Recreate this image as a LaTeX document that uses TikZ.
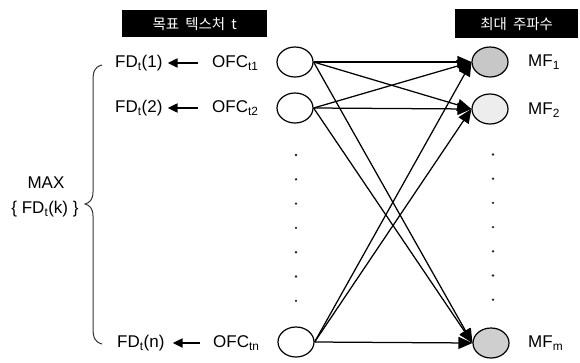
\documentclass[tikz,border=0pt]{standalone}
\usepackage{fontspec}
\setmainfont{Liberation Sans}
\newfontfamily\kor{Noto Sans CJK KR}
\usetikzlibrary{shapes.geometric,arrows.meta}
\begin{document}
\begin{tikzpicture}[x=1pt,y=-1pt,
  lbl/.style={font=\fontsize{17}{19}\selectfont, inner sep=0pt, text height=12pt, text depth=3pt},
  hdr/.style={fill=black, text=white, font=\kor\fontsize{14.5}{16}\selectfont, inner sep=0pt, anchor=north west},
  lnode/.style={ellipse, draw, line width=1.2pt, minimum width=36pt, minimum height=30pt, inner sep=0pt, fill=white},
  rnode/.style={ellipse, draw, line width=1.2pt, minimum width=36pt, minimum height=30pt, inner sep=0pt},
  edge/.style={line width=1.25pt, -{Triangle[length=14pt,width=12pt]}},
  smallarr/.style={line width=2pt, -{Triangle[length=10pt,width=9pt]}},
  dotn/.style={circle, fill=black!85, inner sep=0pt, minimum size=2.6pt}
]
\useasboundingbox (0,0) rectangle (580,362);
% headers
\node[hdr, minimum width=145pt, minimum height=27pt] (h1) at (122,10) {목표\hspace{6pt}텍스처\hspace{6pt}t};
\node[hdr, minimum width=123pt, minimum height=29pt] (h2) at (455,9) {최대\hspace{6pt}주파수};
% left circles
\node[lnode] (L1) at (295,62) {};
\node[lnode] (L2) at (295,108) {};
\node[lnode] (Ln) at (296,342) {};
% right circles
\node[rnode, fill=black!22] (R1) at (490,62) {};
\node[rnode, fill=black!7] (R2) at (490,109) {};
\node[rnode, fill=black!19] (Rm) at (491,343) {};
% edges
\foreach \a in {L1,L2,Ln}{
  \foreach \b in {R1,R2,Rm}{
    \draw[edge] (\a.east) -- (\b.west);
  }
}
% dots
\foreach \k in {0,...,6}{
  \node[dotn] (dl\k) at (296,{155+24.3*\k}) {};
  \node[dotn] (dr\k) at (493,{154.5+24.2*\k}) {};
}
% left labels
\node[lbl, anchor=west] (FD1) at (115,63) {FD\textsubscript{t}(1)};
\node[lbl, anchor=west] (O1) at (212,63) {OFC\textsubscript{t1}};
\node[lbl, anchor=west] (FD2) at (115,108) {FD\textsubscript{t}(2)};
\node[lbl, anchor=west] (O2) at (212,108) {OFC\textsubscript{t2}};
\node[lbl, anchor=west] (FDn) at (117,343) {FD\textsubscript{t}(n)};
\node[lbl, anchor=west] (On) at (213,343) {OFC\textsubscript{tn}};
\draw[smallarr, shorten <=14pt, shorten >=5pt] (O1.west) -- (FD1.east);
\draw[smallarr, shorten <=14pt, shorten >=5pt] (O2.west) -- (FD2.east);
\draw[smallarr, shorten <=13pt, shorten >=8pt] (On.west) -- (FDn.east);
% right labels
\node[lbl, anchor=west] (M1) at (528,62) {MF\textsubscript{1}};
\node[lbl, anchor=west] (M2) at (528,110) {MF\textsubscript{2}};
\node[lbl, anchor=west] (Mm) at (528,343) {MF\textsubscript{m}};
% max
\node[lbl] (mx) at (46,184) {MAX};
\node[lbl] (mx2) at (45,209) {\{ FD\textsubscript{t}(k) \}};
% brace
\draw[line width=1pt, black!80] (102,65) .. controls (94,67) and (93,72) .. (93,82)
  -- (93,192) .. controls (93,200) and (89,203) .. (85,204)
  .. controls (89,205) and (93,208) .. (93,216)
  -- (93,328) .. controls (93,338) and (95,342) .. (102,344);
\end{tikzpicture}
\end{document}
